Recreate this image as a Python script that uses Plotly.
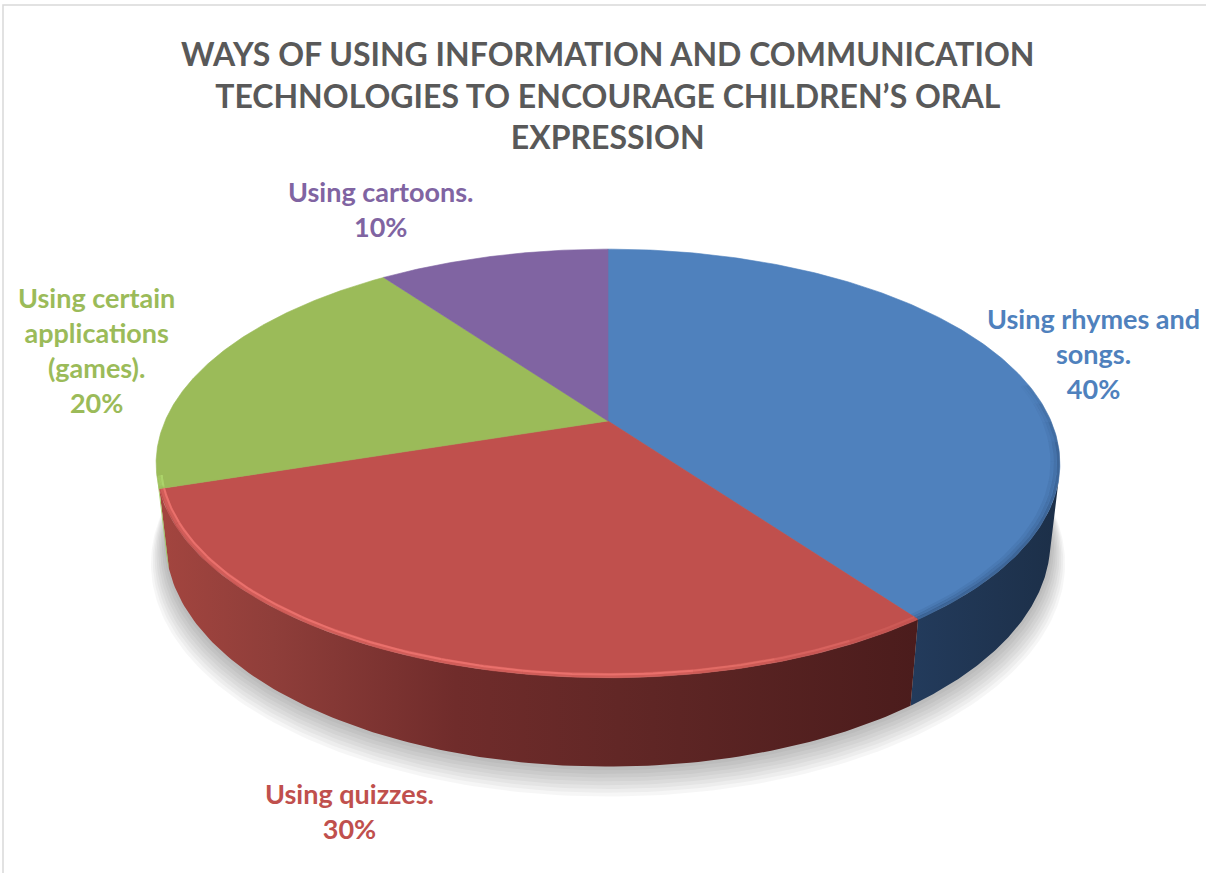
import numpy as np
import plotly.graph_objects as go

# ---- data -------------------------------------------------------------
categories = [
    "Using rhymes and songs.",
    "Using quizzes.",
    "Using certain applications (games).",
    "Using cartoons.",
]
values = [40, 30, 20, 10]
# category names as they wrap inside the data labels
label_lines = [
    ["Using rhymes and", "songs."],
    ["Using quizzes."],
    ["Using certain", "applications", "(games)."],
    ["Using cartoons."],
]
title_lines = [
    "WAYS OF USING INFORMATION AND COMMUNICATION",
    "TECHNOLOGIES TO ENCOURAGE CHILDREN\u2019S ORAL",
    "EXPRESSION",
]

# ---- styles -----------------------------------------------------------
top_colors = ["#4F81BD", "#C0504D", "#9BBB59", "#8064A2"]
side_scales = [
    [[0, "#233B5C"], [1, "#1C2F48"]],
    [[0, "#A3453F"], [0.15, "#8F3E3A"], [0.39, "#702C2B"], [0.65, "#5F2625"], [1, "#4B1C1C"]],
    [[0, "#A9D46A"], [1, "#98C25A"]],
    [[0, "#6A5288"], [1, "#5A4574"]],
]
# bevel along the front edge: list of (radius, rgba, width) strokes per slice
bevel_strokes = [
    [(0.997, "rgba(20,40,70,0.30)", 3), (0.990, "rgba(20,40,70,0.16)", 3),
     (0.983, "rgba(20,40,70,0.07)", 3)],
    [(0.993, "rgba(240,118,112,0.35)", 5), (0.990, "rgba(240,118,112,0.8)", 2)],
    [(0.993, "rgba(175,216,110,0.5)", 5), (0.990, "rgba(175,216,110,0.9)", 2)],
    [],
]
label_pos = [(1093, 353), (349, 811), (96, 350), (381, 209)]
FONT = "Lato"

W, H = 1206, 873
# 3-D pie camera (pixel space)
CX, CY = 608, 421
FOCAL = 1980.0
DIST = 4.47
TILT = np.radians(27.7)
THICK = 0.20


def project(px, py, pz):
    s, c = np.sin(TILT), np.cos(TILT)
    yc = py * c - pz * s
    zc = py * s + pz * c
    w = DIST - zc
    return CX + FOCAL * px / w, CY - FOCAL * yc / w


def rim(theta_deg, height=0.0, r=1.0):
    th = np.radians(theta_deg)
    return project(r * np.sin(th), np.full_like(th, height), -r * np.cos(th))


total = float(sum(values))
spans = [v / total * 360.0 for v in values]
starts = np.concatenate([[0.0], np.cumsum(spans)[:-1]])

# angular range of the outer wall that faces the camera
vis_lo = np.degrees(np.arccos(-1.0 / (DIST * np.cos(TILT))))
vis_hi = 360.0 - vis_lo

fig = go.Figure()

# soft drop shadow under the pie
full = np.linspace(0, 360, 361)
for k in range(1, 9):
    sx, sy = rim(full, -THICK, 1.0 + 0.004 * k)
    fig.add_trace(go.Scatter(
        x=sx, y=sy + 2.4 * k, mode="lines", fill="toself",
        fillcolor="rgba(0,0,0,0.035)", line=dict(width=0),
        hoverinfo="skip", showlegend=False))

# outer walls
for i, (a, span) in enumerate(zip(starts, spans)):
    lo, hi = max(a, vis_lo), min(a + span, vis_hi)
    if lo >= hi:
        continue
    th = np.linspace(lo, hi, 120)
    tx, ty = rim(th, 0.0)
    bx, by = rim(th[::-1], -THICK)
    fig.add_trace(go.Scatter(
        x=np.concatenate([tx, bx, tx[:1]]), y=np.concatenate([ty, by, ty[:1]]),
        mode="lines", fill="toself", line=dict(width=0),
        fillgradient=dict(type="horizontal", colorscale=side_scales[i]),
        hoverinfo="skip", showlegend=False))

# top faces
for i, (a, span) in enumerate(zip(starts, spans)):
    th = np.linspace(a, a + span, 200)
    ax, ay = rim(th, 0.0)
    ox, oy = project(0.0, 0.0, 0.0)
    fig.add_trace(go.Scatter(
        x=np.concatenate([[ox], ax, [ox]]), y=np.concatenate([[oy], ay, [oy]]),
        mode="lines", fill="toself", fillcolor=top_colors[i],
        line=dict(width=0.6, color=top_colors[i]),
        name=categories[i], hoverinfo="skip", showlegend=False))

# bevel light / shade along the front edge of each top face,
# fading in over the first few degrees
for i, (a, span) in enumerate(zip(starts, spans)):
    lo, hi = max(a, vis_lo - 25), min(a + span, vis_hi)
    if lo >= hi:
        continue
    for r, color, width in bevel_strokes[i]:
        rgb, alpha = color.rsplit(",", 1)
        alpha = float(alpha.rstrip(")"))
        edges = np.linspace(lo, hi, 13)
        for j in range(len(edges) - 1):
            fade = min(1.0, (j + 1) / 4.0)
            th = np.linspace(edges[j], edges[j + 1], 20)
            rx, ry = rim(th, 0.0, r)
            fig.add_trace(go.Scatter(
                x=rx, y=ry, mode="lines",
                line=dict(color=f"{rgb},{alpha * fade:.3f})", width=width),
                hoverinfo="skip", showlegend=False))

# data labels
for i, v in enumerate(values):
    lines = label_lines[i] + [f"{v / total * 100:.0f}%"]
    fig.add_annotation(
        x=label_pos[i][0], y=label_pos[i][1], xref="x", yref="y",
        text="<br>".join(lines), showarrow=False,
        xanchor="center", yanchor="middle", align="center",
        font=dict(family=FONT, size=27, color=top_colors[i], weight="bold"))

# chart title
fig.add_annotation(
    x=607, y=95, xref="x", yref="y", text="<br>".join(title_lines),
    showarrow=False, xanchor="center", yanchor="middle", align="center",
    font=dict(family=FONT, size=32, color="#595959", weight="bold"))

# chart-area frame
fig.add_shape(type="rect", xref="x", yref="y", x0=3, y0=5, x1=W + 10, y1=H + 10,
              line=dict(color="#D9D9D9", width=1.5), fillcolor="rgba(0,0,0,0)",
              layer="below")

fig.update_layout(
    width=W, height=H, autosize=False,
    margin=dict(l=0, r=0, t=0, b=0, pad=0),
    paper_bgcolor="white", plot_bgcolor="white",
    xaxis=dict(range=[0, W], visible=False, fixedrange=True),
    yaxis=dict(range=[H, 0], visible=False, fixedrange=True),
)

fig.write_html("out.html")
